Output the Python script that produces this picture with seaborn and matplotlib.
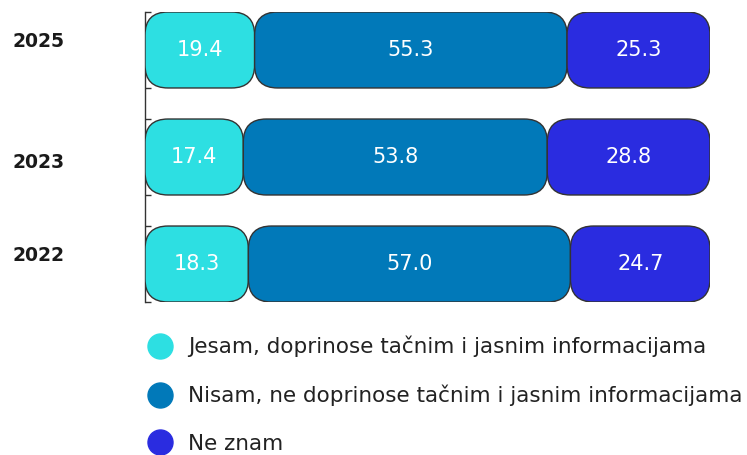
import matplotlib
matplotlib.use("Agg")
import matplotlib.pyplot as plt
from matplotlib.patches import FancyBboxPatch
from matplotlib.lines import Line2D
import seaborn as sns
import pandas as pd
import numpy as np

years = ["2025", "2023", "2022"]
series = [
    "Jesam, doprinose tačnim i jasnim informacijama",
    "Nisam, ne doprinose tačnim i jasnim informacijama",
    "Ne znam",
]
jesam = [19.4, 17.4, 18.3]
nisam = [55.3, 53.8, 57.0]
ne_znam = [25.3, 28.8, 24.7]
colors = ["#2DDFE2", "#0179B9", "#2A2CE0"]

values = [jesam, nisam, ne_znam]
cum = np.cumsum(np.array(values), axis=0)

sns.set_style("white")
plt.rcParams["font.family"] = ["DejaVu Sans"]

fig = plt.figure(figsize=(7.47, 4.55), dpi=100)
ax = fig.add_axes([145 / 747, 1 - 302 / 455, 565 / 747, 290 / 455])

bar_h = 0.71
patch_sets = []
for k in range(3):
    df = pd.DataFrame({"year": years, "val": cum[k]})
    n_before = len(ax.patches)
    sns.barplot(data=df, x="val", y="year", order=years, orient="h",
                color=colors[k], width=bar_h, ax=ax)
    patch_sets.append(list(ax.patches[n_before:]))

ax.set_xlim(0, 100)
ax.set_ylim(2 + bar_h / 2, -bar_h / 2)

# aspect correction for rounded corners
px_x = 565 / 100
px_y = 290 / (2 + bar_h)
aspect = px_x / px_y
r = 23 / px_x

for k in range(3):
    for i, p in enumerate(patch_sets[k]):
        right = p.get_x() + p.get_width()
        left = 0 if k == 0 else patch_sets[k - 1][i].get_x() + patch_sets[k - 1][i].get_width()
        y0 = p.get_y()
        h = p.get_height()
        p.set_visible(False)
        fb = FancyBboxPatch((left, y0), right - left, h,
                            boxstyle=f"round,pad=0,rounding_size={r}",
                            mutation_aspect=aspect,
                            facecolor=colors[k], edgecolor="#333333",
                            linewidth=1.0, zorder=3)
        ax.add_patch(fb)
        ax.text((left + right) / 2, y0 + h / 2, f"{values[k][i]:.1f}",
                ha="center", va="center", color="white", fontsize=15, zorder=4)

# spine and ticks
for s in ["top", "right", "bottom"]:
    ax.spines[s].set_visible(False)
ax.spines["left"].set_color("#333333")
ax.spines["left"].set_linewidth(1.0)
ax.set_xticks([])
ax.set_yticks([])
edges = []
for i in range(3):
    edges += [i - bar_h / 2, i + bar_h / 2]
ax.set_yticks(edges, minor=True)
ax.tick_params(axis="y", which="minor", direction="in", length=4, width=1,
               color="#333333", left=True)
ax.set_xlabel("")
ax.set_ylabel("")

# year labels
offsets = [-0.075, 0.056, -0.084]
for i, y in enumerate(years):
    ax.text(-133 / 565, i + offsets[i], y, transform=ax.get_yaxis_transform(),
            ha="left", va="center", fontsize=13.5, fontweight="bold", color="#1a1a1a")

# legend
handles = [Line2D([0], [0], marker="o", linestyle="", markersize=18,
                  markerfacecolor=c, markeredgecolor=c) for c in colors]
fig.legend(handles, series, loc="upper left", bbox_to_anchor=(136 / 747, 1 - 325 / 455),
           frameon=False, fontsize=15.5, labelspacing=1.28, handletextpad=0.7,
           handlelength=1.2, borderpad=0, labelcolor="#222222")

fig.savefig("out.png", dpi=100)
